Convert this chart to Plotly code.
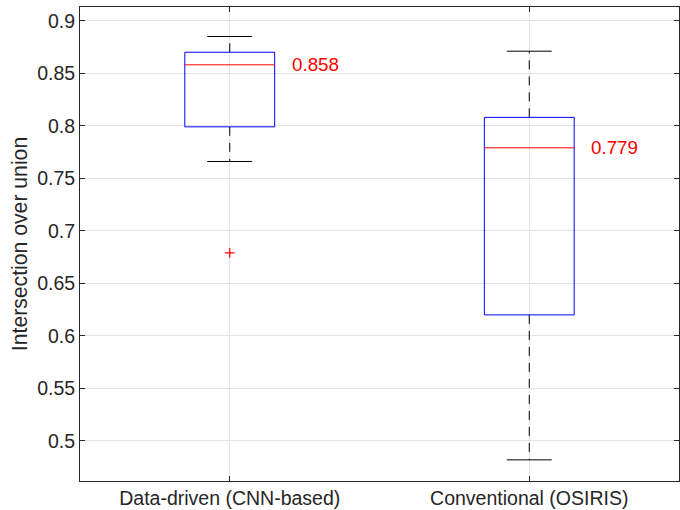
import plotly.graph_objects as go

# ---- data ----
categories = ["Data-driven (CNN-based)", "Conventional (OSIRIS)"]
positions = [1, 2]
q1_vals = [0.799, 0.620]
median_vals = [0.858, 0.779]
q3_vals = [0.870, 0.808]
lower_whisker = [0.766, 0.482]
upper_whisker = [0.885, 0.871]
outlier_x = [1]
outlier_y = [0.679]
y_ticks = [0.5, 0.55, 0.6, 0.65, 0.7, 0.75, 0.8, 0.85, 0.9]
y_tick_text = ["0.5", "0.55", "0.6", "0.65", "0.7", "0.75", "0.8", "0.85", "0.9"]

# ---- style ----
BOX_HALF = 0.15
CAP_HALF = 0.075
FONT = "Liberation Sans, Arial, Helvetica, sans-serif"
AX_COL = "#262626"
GRID_COL = "#e2e2e2"

fig = go.Figure()

for p, q1, med, q3, lo, hi in zip(positions, q1_vals, median_vals, q3_vals,
                                   lower_whisker, upper_whisker):
    # whiskers (dashed)
    fig.add_trace(go.Scatter(x=[p, p, None, p, p], y=[q3, hi, None, q1, lo],
                             mode="lines", line=dict(color="black", width=1, dash="9px,7px"),
                             hoverinfo="skip", showlegend=False))
    # caps
    fig.add_trace(go.Scatter(x=[p - CAP_HALF, p + CAP_HALF, None, p - CAP_HALF, p + CAP_HALF],
                             y=[hi, hi, None, lo, lo],
                             mode="lines", line=dict(color="black", width=1),
                             hoverinfo="skip", showlegend=False))
    # box
    fig.add_trace(go.Scatter(x=[p - BOX_HALF, p + BOX_HALF, p + BOX_HALF, p - BOX_HALF, p - BOX_HALF],
                             y=[q1, q1, q3, q3, q1],
                             mode="lines", line=dict(color="#0000ff", width=1),
                             hoverinfo="skip", showlegend=False))
    # median
    fig.add_trace(go.Scatter(x=[p - BOX_HALF, p + BOX_HALF], y=[med, med],
                             mode="lines", line=dict(color="#ff0000", width=1),
                             hoverinfo="skip", showlegend=False))
    # median label
    fig.add_annotation(x=p + BOX_HALF + 0.05, y=med, text=f"{med:.3f}",
                       showarrow=False, xanchor="left", yanchor="middle",
                       font=dict(family=FONT, size=18.8, color="#ff0000"))

# outliers
fig.add_trace(go.Scatter(x=outlier_x, y=outlier_y, mode="markers",
                         marker=dict(symbol="cross-thin", size=7, color="#ff0000",
                                     line=dict(color="#ff0000", width=1.2)),
                         hoverinfo="skip", showlegend=False))

fig.update_layout(
    width=680, height=510,
    margin=dict(l=80, r=1, t=7, b=29),
    plot_bgcolor="white", paper_bgcolor="white",
    font=dict(family=FONT, size=19.5, color=AX_COL),
    showlegend=False,
    xaxis=dict(range=[0.5, 2.5], tickvals=positions, ticktext=categories,
               showgrid=True, gridcolor=GRID_COL, gridwidth=1,
               showline=True, linecolor=AX_COL, linewidth=1, mirror="ticks",
               ticks="inside", ticklen=5, tickcolor=AX_COL, zeroline=False,
               tickfont=dict(family=FONT, size=19.5, color=AX_COL)),
    yaxis=dict(range=[0.46187, 0.91306], tickvals=y_ticks, ticktext=y_tick_text,
               showgrid=True, gridcolor=GRID_COL, gridwidth=1,
               showline=True, linecolor=AX_COL, linewidth=1, mirror="ticks",
               ticks="inside", ticklen=5, tickcolor=AX_COL, zeroline=False,
               tickfont=dict(family=FONT, size=19.5, color=AX_COL),
               title=dict(text="Intersection over union",
                          font=dict(family=FONT, size=21.2, color=AX_COL), standoff=3)),
)

fig.write_html("out.html", config={"displayModeBar": False},
               post_script="document.body.style.margin='0';")
